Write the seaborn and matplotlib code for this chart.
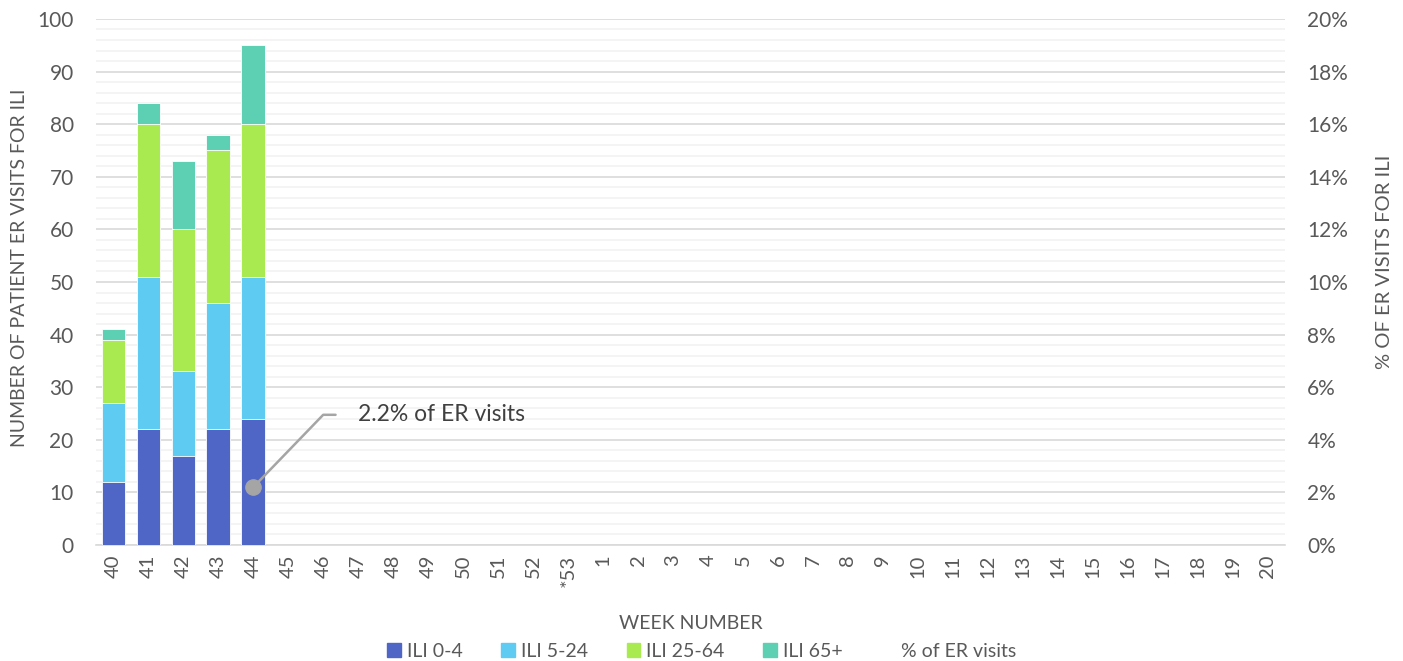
import pandas as pd
import numpy as np
import matplotlib.pyplot as plt
import seaborn as sns
from matplotlib.patches import Patch
from matplotlib.lines import Line2D
from matplotlib.ticker import MultipleLocator, FuncFormatter

weeks = ['40','41','42','43','44','45','46','47','48','49','50','51','52','*53',
         '1','2','3','4','5','6','7','8','9','10','11','12','13','14','15','16','17','18','19','20']
ili_0_4 = [12, 22, 17, 22, 24]
ili_5_24 = [15, 29, 16, 24, 27]
ili_25_64 = [12, 29, 27, 29, 29]
ili_65 = [2, 4, 13, 3, 15]
pct_er = [np.nan, np.nan, np.nan, np.nan, 2.2]

labels = ['ILI 0-4', 'ILI 5-24', 'ILI 25-64', 'ILI 65+']
colors = ['#4F66C7', '#5ECBF2', '#A8EA50', '#5DCFB2']
txt = '#595959'

def pad(v):
    return list(v) + [np.nan] * (len(weeks) - len(v))

df = pd.DataFrame({'week': weeks, 'a': pad(ili_0_4), 'b': pad(ili_5_24),
                   'c': pad(ili_25_64), 'd': pad(ili_65)})
df['c1'] = df.a
df['c2'] = df.a + df.b
df['c3'] = df.c2 + df.c
df['c4'] = df.c3 + df.d

sns.set_style('white')
plt.rcParams['font.family'] = ['Lato', 'DejaVu Sans']

fig = plt.figure(figsize=(14.03, 6.61), dpi=100)
ax = fig.add_axes([0.0684, 0.1755, 0.916 - 0.0684, 0.9713 - 0.1755])

# stacked bars: draw cumulative totals from the top layer down
for col, c in zip(['c4', 'c3', 'c2', 'c1'], colors[::-1]):
    sns.barplot(data=df, x='week', y=col, order=weeks, color=c, width=0.68,
                saturation=1, ax=ax, zorder=3, edgecolor='white', linewidth=0.6)

ax.set_ylim(0, 100)
ax.set_xlim(-0.5, len(weeks) - 0.5)
ax.yaxis.set_major_locator(MultipleLocator(10))
ax.yaxis.set_minor_locator(MultipleLocator(2))
ax.grid(axis='y', which='major', color='#D9D9D9', lw=1.2, zorder=0)
ax.grid(axis='y', which='minor', color='#F2F2F2', lw=1.2, zorder=0)
ax.set_axisbelow(True)
for s in ['top', 'right', 'left']:
    ax.spines[s].set_visible(False)
ax.spines['bottom'].set_color('#D9D9D9')
ax.spines['bottom'].set_linewidth(1.2)

ax.set_xticks(range(len(weeks)))
ax.set_xticklabels(weeks, rotation=90)
ax.set_xticks(np.arange(-0.5, len(weeks), 1), minor=True)
ax.tick_params(axis='x', which='major', length=0, pad=7, labelsize=14.5, labelcolor=txt)
ax.tick_params(axis='x', which='minor', length=7, color='#D9D9D9', width=1.2)
ax.tick_params(axis='y', which='both', length=0, pad=16, labelsize=15, labelcolor=txt)

ax.set_xlabel('WEEK NUMBER', fontsize=14, color=txt, labelpad=20)
ax.set_ylabel('NUMBER OF PATIENT ER VISITS FOR ILI', fontsize=14, color=txt)
ax.yaxis.set_label_coords(-0.057, 0.527)

ax2 = ax.twinx()
ax2.set_ylim(0, 20)
ax2.yaxis.set_major_locator(MultipleLocator(2))
ax2.yaxis.set_major_formatter(FuncFormatter(lambda v, p: f'{v:.0f}%'))
for s in ax2.spines.values():
    s.set_visible(False)
ax2.tick_params(axis='y', length=0, pad=16, labelsize=15, labelcolor=txt)
ax2.set_ylabel('% OF ER VISITS FOR ILI', fontsize=14.5, color=txt)
ax2.yaxis.set_label_coords(1.076, 0.538)

ax2.plot(range(len(pct_er)), pct_er, marker='o', ms=11, color='#A5A5A5', ls='none', zorder=5)
ax2.annotate('2.2% of ER visits', xy=(4, pct_er[4]), xytext=(7.0, 4.95),
             fontsize=16.5, color='#404040', va='center', ha='left',
             arrowprops=dict(arrowstyle='-', color='#A5A5A5', lw=1.8,
                             connectionstyle='angle,angleA=0,angleB=46',
                             relpos=(0, 0.5), shrinkA=14, shrinkB=0))

handles = [Patch(color=c) for c in colors] + [Line2D([], [], color='none')]
fig.legend(handles, labels + ['% of ER visits'], loc='lower center',
           bbox_to_anchor=(0.5, -0.025), ncol=5, frameon=False, fontsize=14,
           labelcolor=txt, handlelength=0.7, handleheight=0.7, handletextpad=0.3,
           columnspacing=2.0)

fig.savefig('out.png', dpi=100)
